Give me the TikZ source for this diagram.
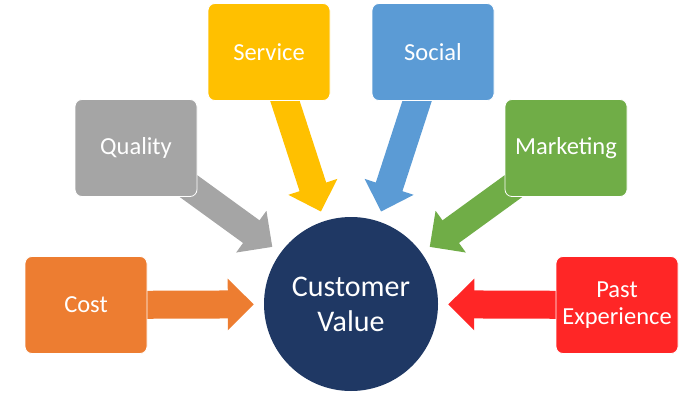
\documentclass[tikz,border=0pt]{standalone}
\usepackage{fontspec}
\setmainfont{Carlito}
\usetikzlibrary{arrows.meta, backgrounds}

\definecolor{costorange}{HTML}{ED7D31}
\definecolor{qualgray}{HTML}{A5A5A5}
\definecolor{servyellow}{HTML}{FFC000}
\definecolor{socblue}{HTML}{5B9BD5}
\definecolor{mktgreen}{HTML}{70AD47}
\definecolor{pastred}{HTML}{FF2626}
\definecolor{cvnavy}{HTML}{1F3864}

\tikzset{
  factor/.style={draw=white, line width=0.8pt, rounded corners=7pt, minimum width=122pt, minimum height=97pt, inner sep=0pt, text=white, align=center, font=\fontsize{24.5}{27}\selectfont},
  feed/.style={line width=28pt, shorten >=10pt, -{Triangle[length=26pt, width=50pt]}}
}

\begin{document}
\begin{tikzpicture}[x=1pt, y=-1pt]
\useasboundingbox (0,0) rectangle (700,401);
\node[circle, fill=cvnavy, minimum size=174pt, inner sep=0pt, text=white, align=center, font=\fontsize{30}{35}\selectfont] (cv) at (351,304) {Customer\\Value};
\node[factor, fill=costorange] (cost) at (86,305) {Cost};
\node[factor, fill=qualgray] (qual) at (136,148) {Quality};
\node[factor, fill=servyellow] (serv) at (269,52) {Service};
\node[factor, fill=socblue] (soc) at (433,52) {Social};
\node[factor, fill=mktgreen] (mkt) at (566,148) {Marketing};
\node[factor, fill=pastred] (past) at (617,305) {Past\\Experience};
% arrows go under the boxes
\begin{scope}[on background layer]
\draw[feed, costorange] (cost.center) -- (cv);
\draw[feed, qualgray] (qual.center) -- (cv);
\draw[feed, servyellow] (serv.center) -- (cv);
\draw[feed, socblue] (soc.center) -- (cv);
\draw[feed, mktgreen] (mkt.center) -- (cv);
\draw[feed, pastred] (past.center) -- (cv);
\end{scope}
\end{tikzpicture}
\end{document}
